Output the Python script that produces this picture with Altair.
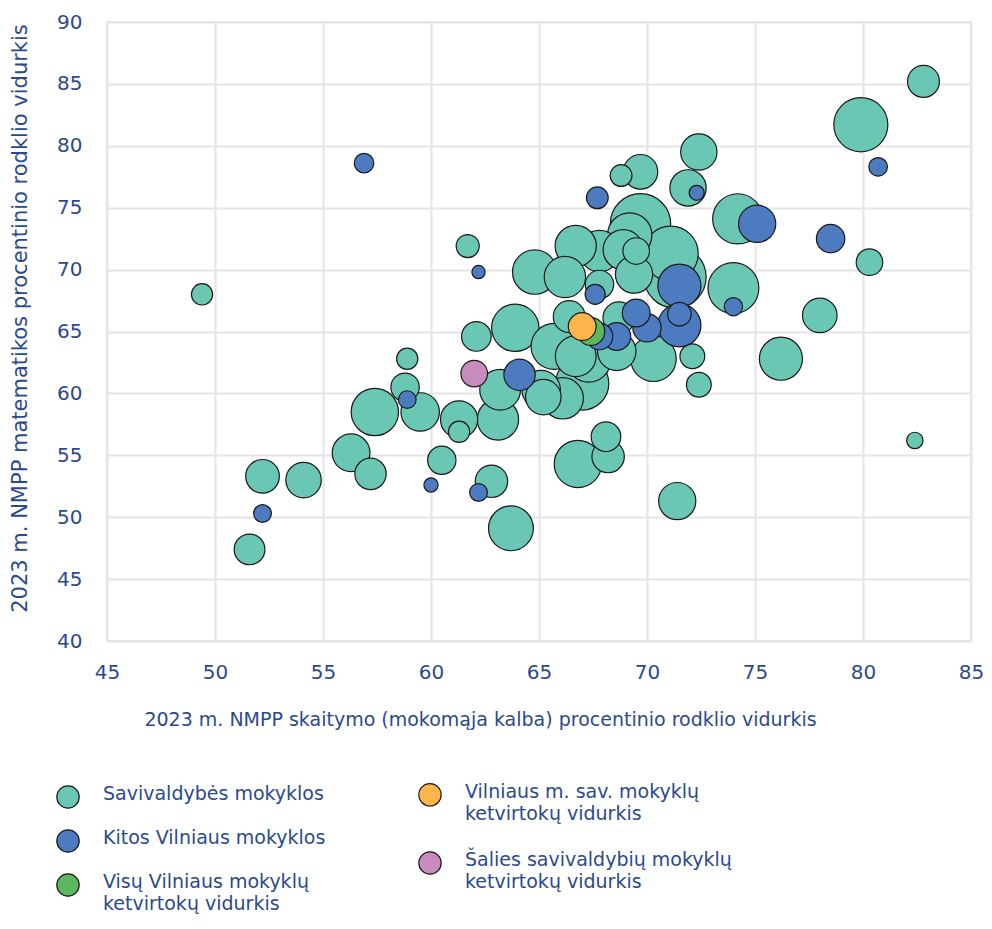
import altair as alt
import pandas as pd

FONT = "DejaVu Sans"
NAVY = "#2b4a8c"

kategorijos = [
    "Savivaldybės mokyklos",
    "Kitos Vilniaus mokyklos",
    "Visų Vilniaus mokyklų ketvirtokų vidurkis",
    "Vilniaus m. sav. mokyklų ketvirtokų vidurkis",
    "Šalies savivaldybių mokyklų ketvirtokų vidurkis",
]
spalvos = ["#69c7b4", "#4c7bbf", "#5cb85f", "#fdb54c", "#c98bbd"]

# Savivaldybės mokyklos
sav_skaitymas = [49.4, 61.7, 64.8, 82.8, 79.9, 72.4, 71.9, 69.7, 68.8, 74.2,
                 80.3, 78.0, 74.0, 69.7, 71.1, 71.3, 69.5, 68.9, 69.2, 67.8,
                 66.7, 66.2, 67.8, 69.4, 58.9, 58.8, 57.4, 59.5, 56.3, 57.2,
                 52.2, 54.1, 51.6, 60.5, 62.8, 63.7, 61.3, 61.3, 63.1, 62.1,
                 63.9, 82.4, 71.4, 66.8, 68.1, 68.2, 76.2, 72.4, 72.1, 70.3,
                 68.6, 66.4, 65.7, 63.2, 65.1, 66.1, 67.0, 67.3, 65.2, 66.7,
                 68.7]
sav_matematika = [68.0, 71.9, 69.8, 85.2, 81.7, 79.5, 76.6, 77.9, 77.6, 74.1,
                  70.6, 66.3, 68.5, 73.7, 71.3, 69.4, 71.5, 71.6, 72.8, 71.5,
                  71.9, 69.4, 68.8, 69.6, 62.8, 60.5, 58.5, 58.5, 55.2, 53.5,
                  53.3, 53.0, 47.4, 54.6, 52.9, 49.1, 57.9, 56.9, 57.9, 64.6,
                  65.3, 56.2, 51.3, 54.3, 56.5, 54.9, 62.8, 60.7, 63.0, 62.8,
                  63.4, 66.2, 63.8, 60.3, 60.3, 59.6, 60.8, 62.7, 59.7, 63.0,
                  66.1]
sav_mokiniai = [144, 169, 625, 324, 930, 420, 420, 380, 151, 800,
                225, 380, 824, 1156, 961, 1225, 225, 515, 625, 543,
                543, 543, 256, 441, 144, 256, 713, 471, 454, 313,
                361, 400, 300, 256, 335, 640, 441, 144, 543, 279,
                713, 86, 441, 713, 279, 335, 590, 196, 196, 660,
                471, 324, 676, 529, 471, 543, 900, 625, 400, 529,
                324]

# Kitos Vilniaus mokyklos
kit_skaitymas = [56.9, 62.2, 80.7, 72.3, 67.7, 75.1, 78.5, 74.0, 71.5, 71.5,
                 67.6, 58.9, 52.2, 60.0, 62.2, 64.1, 67.8, 68.6, 69.5, 70.0,
                 71.5]
kit_matematika = [78.6, 69.8, 78.3, 76.2, 75.8, 73.7, 72.5, 67.0, 68.7, 66.4,
                  68.0, 59.5, 50.3, 52.6, 52.0, 61.5, 64.6, 64.6, 66.5, 65.3,
                  65.5]
kit_mokiniai = [121, 56, 110, 72, 151, 441, 256, 106, 590, 177,
                128, 100, 100, 64, 100, 313, 225, 246, 246, 256,
                590]

# Vidurkiai
vid_kategorija = [kategorijos[2], kategorijos[3], kategorijos[4]]
vid_skaitymas = [67.4, 67.0, 62.0]
vid_matematika = [65.0, 65.4, 61.6]
vid_mokiniai = [246, 246, 225]

# Legenda
leg_tekstas = [
    "Savivaldybės mokyklos",
    "Kitos Vilniaus mokyklos",
    "Visų Vilniaus mokyklų\nketvirtokų vidurkis",
    "Vilniaus m. sav. mokyklų\nketvirtokų vidurkis",
    "Šalies savivaldybių mokyklų\nketvirtokų vidurkis",
]
leg_stulpelis = [0, 0, 0, 1, 1]
leg_eilute = [0, 1, 2, -0.05, 1.5]

rows = []
def add(kat, xs, ys, ss):
    grp = sorted(zip(xs, ys, ss), key=lambda t: -t[2])
    for x, y, s in grp:
        rows.append({"kategorija": kat, "skaitymas": x, "matematika": y, "mokiniai": s})

add(kategorijos[0], sav_skaitymas, sav_matematika, sav_mokiniai)
add(kategorijos[1], kit_skaitymas, kit_matematika, kit_mokiniai)
for k, x, y, s in zip(vid_kategorija, vid_skaitymas, vid_matematika, vid_mokiniai):
    rows.append({"kategorija": k, "skaitymas": x, "matematika": y, "mokiniai": s})
df = pd.DataFrame(rows)
df["eile"] = range(len(df))

leg = pd.DataFrame({"kategorija": kategorijos, "tekstas": leg_tekstas,
                    "stulpelis": leg_stulpelis, "eilute": leg_eilute})

color = alt.Color("kategorija:N", scale=alt.Scale(domain=kategorijos, range=spalvos), legend=None)

bubbles = alt.Chart(df).mark_circle(stroke="#1a1a1a", strokeWidth=1.2, opacity=1).encode(
    x=alt.X("skaitymas:Q",
            scale=alt.Scale(domain=[45, 85], nice=False, zero=False),
            axis=alt.Axis(values=list(range(45, 86, 5)),
                          title="2023 m. NMPP skaitymo (mokomąja kalba) procentinio rodklio vidurkis",
                          titleX=373, titleAlign="center", titlePadding=28, labelPadding=21,
                          titleFontSize=19, labelFlush=False)),
    y=alt.Y("matematika:Q",
            scale=alt.Scale(domain=[40, 90], nice=False, zero=False),
            axis=alt.Axis(values=list(range(40, 91, 5)),
                          title="2023 m. NMPP matematikos procentinio rodklio vidurkis",
                          labelPadding=25, titlePadding=26, titleY=296, titleFontSize=21,
                          labelFlush=False)),
    size=alt.Size("mokiniai:Q", scale=alt.Scale(domain=[0, 1000], range=[0, 3142]), legend=None),
    color=color,
    order=alt.Order("eile:Q"),
)

leg_x = alt.X("stulpelis:Q", scale=alt.Scale(domain=[0, 1], range=[-39, 323]), axis=None)
leg_y = alt.Y("eilute:Q", scale=alt.Scale(domain=[0, 2], range=[775, 863]), axis=None)

leg_points = alt.Chart(leg).mark_circle(stroke="#1a1a1a", strokeWidth=1.2, opacity=1, size=500).encode(
    x=leg_x, y=leg_y, color=color,
)
leg_text = alt.Chart(leg).mark_text(align="left", baseline="top", dx=35, dy=-12, lineBreak="\n",
                                    fontSize=19, lineHeight=22, font=FONT, color=NAVY).encode(
    x=leg_x, y=leg_y, text="tekstas:N",
)

legend = alt.layer(leg_points, leg_text)

chart = alt.layer(bubbles, legend).resolve_scale(x="independent", y="independent").properties(
    width=864, height=619,
    autosize=alt.AutoSizeParams(type="none"),
    padding={"left": 99, "top": 14, "right": 13, "bottom": 275},
).configure_view(stroke="#e4e4ea", strokeWidth=2).configure_axis(
    grid=True, gridColor="#e4e4ea", gridWidth=2, domain=False, ticks=False, tickSize=0,
    labelFont=FONT, labelFontSize=20, labelColor=NAVY,
    titleFont=FONT, titleColor=NAVY, titleFontWeight="normal",
)

chart.save("out.html", embed_options={"renderer": "svg", "actions": False})
